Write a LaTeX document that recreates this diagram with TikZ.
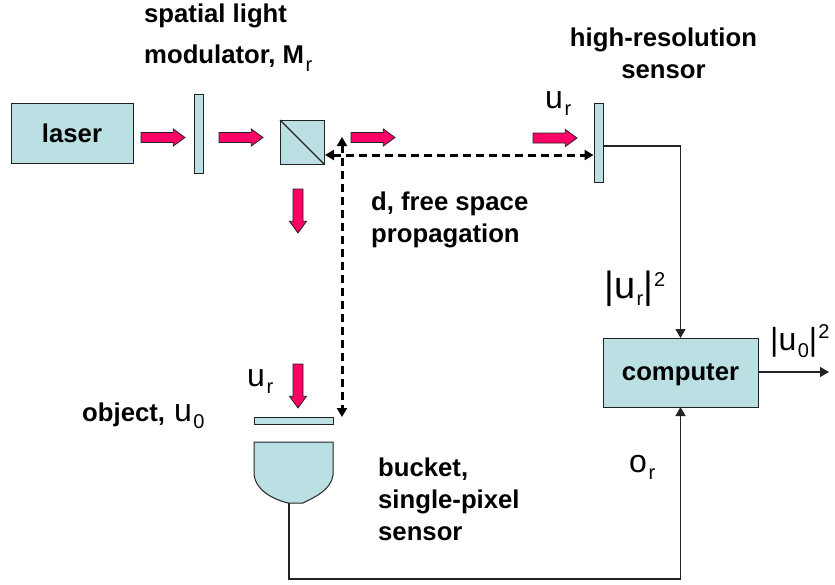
\documentclass[tikz,border=0pt]{standalone}
\usepackage{fontspec}
\setmainfont{Liberation Sans}
\usepackage{tikz}
\usetikzlibrary{arrows.meta, shapes.arrows}
\definecolor{opticfill}{RGB}{187,224,227}
\definecolor{beamred}{RGB}{255,0,102}
\definecolor{edgegray}{RGB}{35,35,35}
\newcommand{\boldsize}{\bfseries\fontsize{25.7}{32}\selectfont}
\newcommand{\plainsize}{\mdseries\fontsize{32}{33}\selectfont}
\newcommand{\lowtext}[1]{\kern1.5pt\raisebox{-7.5pt}{\mdseries\fontsize{20}{20}\selectfont #1}}
\newcommand{\hightext}[1]{\kern1pt\raisebox{12pt}{\mdseries\fontsize{20}{20}\selectfont #1}}
\tikzset{
	optic/.style={draw=edgegray,fill=opticfill,line width=1pt,inner sep=0pt,outer sep=0pt},
	beam/.style={single arrow,draw=edgegray,fill=beamred,line width=0.8pt,inner xsep=0pt,inner ysep=4.6pt,outer sep=0pt,minimum width=16pt,minimum height=44pt,single arrow head extend=3.5pt,single arrow tip angle=72,single arrow head indent=0pt,anchor=tail},
	wire/.style={draw=edgegray,line width=1.2pt},
	freepath/.style={line width=3pt,dash pattern=on 8pt off 5pt},
	boldlabel/.style={font=\boldsize,text=black,inner sep=0pt},
	pluslabel/.style={font=\plainsize,text=black,inner sep=0pt,anchor=base west},
	>={Triangle[length=9pt,width=10pt]}
}
\begin{document}
\begin{tikzpicture}[x=1pt,y=-1pt]
	\useasboundingbox (0,0) rectangle (835,584);
	% Laser and modulator
	\node (laser) at (72,133) [optic,minimum width=122pt,minimum height=60pt,font=\boldsize] {laser};
	\node (modulator) at (198.5,133.5) [optic,minimum width=9pt,minimum height=79pt] {};
	\node (cube) at (302,142) [optic,minimum width=44pt,minimum height=44pt] {};
	\draw[wire] (cube.north west) -- (cube.south east);
	
	% Sensors and computer
	\node (sensor) at (598.5,142.5) [optic,minimum width=9pt,minimum height=79pt] {};
	\node (computer) at (680.5,372.5) [optic,minimum width=155pt,minimum height=69pt,text depth=0pt,font=\boldsize] {computer};
	\node (object) at (293.5,420.5) [optic,minimum width=79pt,minimum height=7pt] {};
	
	% Bucket
	\draw[optic] (254,442) -- (333,442) -- (333,475) .. controls (331,490) and (315,497) .. (303,503) -- (288,503) .. controls (272,499) and (256,490) .. (254,475) -- cycle;
	
	% Beams
	\node (beamA) at (141,137.5) [beam] {};
	\node (beamB) at (219,137.5) [beam] {};
	\node (beamC) at (351,137.5) [beam] {};
	\node (beamD) at (298,189) [beam,rotate=-90] {};
	\node (beamE) at (533,138) [beam] {};
	\node (beamF) at (298,364) [beam,rotate=-90] {};
	
	% Free space propagation
	\coordinate (cubeport) at (325,155);
	\coordinate (sensorport) at (593.5,155);
	\coordinate (upend) at (342,137);
	\coordinate (objectport) at (342,417);
	\draw[freepath,<->] (cubeport) -- (sensorport);
	\draw[freepath,<->] (upend) -- (objectport);
	
	% Wires
	\coordinate (sensorout) at (603,146);
	\coordinate (bucketout) at (289,503);
	\coordinate (wirecorner) at (680.5,579);
	\coordinate (outend) at (829,372);
	\draw[wire,->] (sensorout) -| (computer.north);
	\draw[wire,->] (bucketout) |- (wirecorner) -- (computer.south);
	\draw[wire,->] (computer.east |- outend) -- (outend);
	
	% Labels
	\node (slmLabel) at (144,4) [boldlabel,anchor=north west,align=left,font=\bfseries\fontsize{25.7}{41}\selectfont] {spatial light\\modulator, M\lowtext{r}};
	\node (sensorLabel) at (663.5,28) [boldlabel,anchor=north,align=center] {high-resolution\\sensor};
	\node (distLabel) at (371,192) [boldlabel,anchor=north west,align=left] {d, free space\\propagation};
	\node (bucketLabel) at (378,458) [boldlabel,anchor=north west,align=left] {bucket,\\single-pixel\\sensor};
	\node (objectLabel) at (82,421) [boldlabel,anchor=base west] {object,\hspace{9pt}{\plainsize u\lowtext{0}}};
	\node (urTop) at (545,108) [pluslabel] {u\lowtext{r}};
	\node (urBottom) at (247,386) [pluslabel] {u\lowtext{r}};
	\node (urSquared) at (604,298) [pluslabel,font=\mdseries\fontsize{38}{38}\selectfont] {|u\lowtext{r}|\hightext{2}};
	\node (uoSquared) at (770,350) [pluslabel] {|u\lowtext{0}|\hightext{2}};
	\node (orLabel) at (629,472) [pluslabel] {o\lowtext{r}};
\end{tikzpicture}
\end{document}
